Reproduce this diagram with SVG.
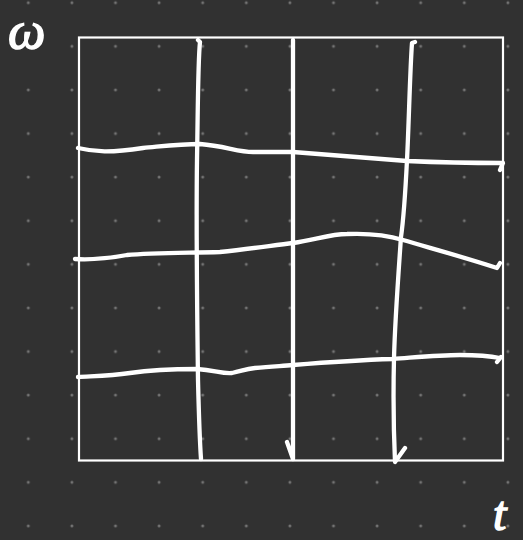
<svg xmlns="http://www.w3.org/2000/svg" width="523" height="540" viewBox="0 0 523 540">
<defs>
<pattern id="dots" patternUnits="userSpaceOnUse" x="6.5" y="-19.1" width="43.6" height="43.6">
<circle cx="21.8" cy="21.8" r="1.5" fill="#747474"/>
</pattern>
<style>
.ink{fill:none;stroke:#ffffff;stroke-width:4.3;stroke-linecap:round;stroke-linejoin:round}
.frame{fill:none;stroke:#ffffff;stroke-width:2.2}
.lbl{fill:#ffffff;stroke:#ffffff;stroke-width:1.5;font-family:"Liberation Serif","DejaVu Serif",serif;font-style:italic}
</style>
</defs>
<rect width="523" height="540" fill="#313131"/>
<rect width="523" height="540" fill="url(#dots)"/>
<g id="frame"><rect class="frame" x="79" y="37.5" width="424" height="423"/></g>
<g id="labels">
<text class="lbl" x="8" y="48" font-size="53">ω</text>
<text class="lbl" x="493" y="530" font-size="48">t</text>
</g>
<g id="connectors">
<path class="ink" d="M78,148 C95,152 110,153 143,148 C165,146 180,144 200,144 C225,146 238,152 253,152 L293,152 C340,156 380,159 407,161 C430,162 460,163 503,163 L500,170"/>
<path class="ink" d="M75,259 C90,260 105,259 127,255 C150,253 180,253 220,252 C250,249 275,245 293,243 C315,240 330,234 347,234 C370,233 390,236 403,240 C430,248 460,256 497,268 L500,263"/>
<path class="ink" d="M78,377 C95,376 110,376 130,373 C150,370 170,369 197,369 C215,370 222,374 232,373 C242,371 245,369 255,368 C270,367 280,366 293,365 C330,362 360,360 393,359 C420,357 440,355 460,355 C475,355 490,356 500,358 M497,362 L501,357"/>
<path class="ink" d="M198,40 L200,42 C198,60 198,100 197,160 C196,230 197,300 198,380 C199,420 200,445 201,459"/>
<path class="ink" d="M293,40 C293,150 294,300 293,459 M287,442 L293,459"/>
<path class="ink" d="M415,42 L412,43 C410,70 409,120 407,160 C405,200 402,230 401,237 C398,280 395,320 394,358 C393,400 394,440 395,462 L405,448"/>
</g>
</svg>
